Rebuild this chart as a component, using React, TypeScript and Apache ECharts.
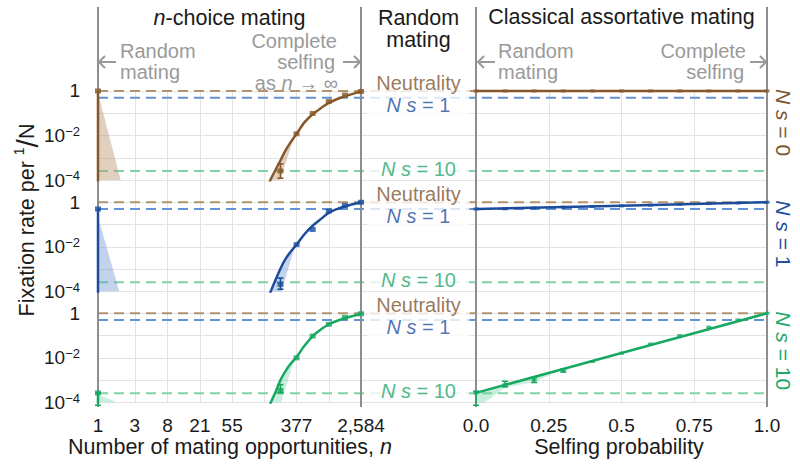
import React, { useEffect, useRef } from 'react';
import * as echarts from 'echarts';

const FONT = "'Liberation Sans', Arial, Helvetica, sans-serif";

// ---------- reference levels (fixation rate per 1/N)
const levelNeutral = 1;
const levelNs1 = 0.5;
const levelNs10 = 2.6e-4;

// ---------- left panel: n-choice mating
const nLabelTicks = [1, 3, 8, 21, 55, 377, 2584];
const nGridTicks = [1, 3, 8, 21, 55, 144, 377, 987, 2584];
const simN = [1, 233, 377, 610, 987, 1597, 2584];
const simNs0 = [1, 2.6e-4, 0.012, 0.098, 0.34, 0.66, 0.95];
const simNs1 = [0.5, 2.1e-4, 0.0126, 0.06, 0.4, 0.72, 1.0];
const simNs10 = [2.7e-4, 3.5e-4, 0.01, 0.095, 0.32, 0.66, 0.95];
const errLeftNs0 = [[233, 1.23e-4, 5.4e-4]];
const errLeftNs1 = [[233, 1.26e-4, 4.0e-4]];
const errLeftNs10 = [[1, 7.5e-5, 2.7e-4], [233, 2.7e-4, 6.3e-4]];
const theoryN = [160, 170, 200, 236, 270, 310, 377, 480, 620, 800, 1000, 1350, 1800, 2584];
const theoryNs0 = [3.2e-5, 8.9e-5, 2.8e-4, 8.5e-4, 2.1e-3, 4.6e-3, 0.012, 0.04, 0.095, 0.18, 0.3, 0.47, 0.66, 0.93];
const theoryNs1 = [3.2e-5, 7.9e-5, 3.2e-4, 1.17e-3, 2.8e-3, 5.6e-3, 0.0126, 0.038, 0.093, 0.19, 0.355, 0.54, 0.74, 1.0];
const theoryNs10 = [3.2e-5, 7.9e-5, 2.8e-4, 1.12e-3, 2.5e-3, 5.0e-3, 0.011, 0.0355, 0.1, 0.2, 0.33, 0.5, 0.68, 0.93];
const dropFloor = 1e-6;
const triNs0 = [[1, 0.8], [1.97, 1e-4]];
const triNs1 = [[1, 0.22], [1.89, 1e-4]];
const triNs10 = [[1, 2.2e-4], [1.8, 1e-4]];
const bandLeftNs0 = [[172, 1e-4], [236, 8.5e-4], [310, 4.6e-3], [357, 0.01], [229, 1e-4]];
const bandLeftNs1 = [[172, 1e-4], [236, 1.17e-3], [310, 5.6e-3], [360, 0.011], [240, 1e-4]];
const bandLeftNs10 = [[172, 1e-4], [236, 1.1e-3], [310, 5e-3], [360, 0.01], [236, 1e-4]];

// ---------- right panel: classical assortative mating
const selfP = [0, 0.1, 0.2, 0.3, 0.4, 0.5, 0.6, 0.7, 0.8, 0.9, 1.0];
const selfNs0 = [1, 1, 1, 1, 1, 1, 1, 1, 1, 1, 1];
const selfNs1 = [0.5, 0.51, 0.55, 0.6, 0.65, 0.69, 0.74, 0.81, 0.87, 0.93, 1.0];
const selfNs10 = [2.7e-4, 6.3e-4, 1.05e-3, 2.75e-3, 6.9e-3, 0.0162, 0.0417, 0.1, 0.237, 0.5, 1.0];
const selfTheoryP = [0, 0.5, 1];
const selfTheoryNs0 = [1, 1, 1];
const selfTheoryNs1 = [0.5, 0.7, 1.0];
const selfTheoryNs10 = [2.7e-4, 0.0165, 1.0];
const errRightNs10 = [[0, 7.5e-5, 3.2e-4], [0.1, 5e-4, 8.9e-4], [0.2, 7.9e-4, 1.35e-3], [0.3, 2.3e-3, 3.2e-3]];
const bandRightNs10 = [[0, 2.7e-4], [0.1, 6.5e-4], [0.2, 1.4e-3], [0.29, 2.8e-3], [0.2, 8.3e-4], [0.1, 4.7e-4], [0.03, 1e-4], [0, 1e-4]];

const selfTicks = [0, 0.25, 0.5, 0.75, 1];
const yLabelTicks = [1e-4, 1e-2, 1];
const yGridTicks = [1e-4, 1e-3, 1e-2, 1e-1, 1];

const C = {
  brown: '#87582a', blue: '#1c4c9c', green: '#17a862',
  brownDash: '#b3926f', blueDash: '#6293d3', greenDash: '#7fd4a6',
  brownText: '#7d5530', blueText: '#1f4fa0', greenText: '#22a86a',
  brownFill: 'rgba(185,150,115,0.45)', blueFill: 'rgba(105,145,205,0.4)', greenFill: 'rgba(100,210,155,0.35)',
  grid: '#e3e3e3', border: '#8e8e8e', note: '#9a9a9a', text: '#1a1a1a',
};

// ---------- layout
const LEFT_X = 98, LEFT_W = 263, RIGHT_X = 476, RIGHT_W = 291, END_X = 767;
const rowTops = [86.5, 197.8, 308.8];
const rowH = 93.7;
const Y_MIN = 1e-4, Y_MAX = Math.pow(10, 0.2);
const MID_X = 0.479;

const rows = [
  { color: C.brown, fill: C.brownFill, text: C.brownText, side: '0', sim: simNs0, theory: theoryNs0, tri: triNs0, band: bandLeftNs0, err: errLeftNs0, self: selfNs0, selfTheory: selfTheoryNs0, errR: [] as number[][], bandR: null as number[][] | null },
  { color: C.blue, fill: C.blueFill, text: C.blueText, side: '1', sim: simNs1, theory: theoryNs1, tri: triNs1, band: bandLeftNs1, err: errLeftNs1, self: selfNs1, selfTheory: selfTheoryNs1, errR: [] as number[][], bandR: null as number[][] | null },
  { color: C.green, fill: C.greenFill, text: C.greenText, side: '10', sim: simNs10, theory: theoryNs10, tri: triNs10, band: bandLeftNs10, err: errLeftNs10, self: selfNs10, selfTheory: selfTheoryNs10, errR: errRightNs10, bandR: bandRightNs10 },
];

const refLines = [
  { v: levelNeutral, dash: C.brownDash, text: C.brownText, label: 'Neutrality', dy: -8, pad: 9 },
  { v: levelNs1, dash: C.blueDash, text: C.blueText, label: '{i|N s}{n| = 1}', dy: 7, pad: 19 },
  { v: levelNs10, dash: C.greenDash, text: C.greenText, label: '{i|N s}{n| = 10}', dy: -2, pad: 13 },
];

function polygonSeries(ai: number, pts: number[][], fill: string, z: number) {
  return {
    type: 'custom', xAxisIndex: ai, yAxisIndex: ai, data: [pts[0]], silent: true, z,
    renderItem: (_p: any, api: any) => ({
      type: 'polygon',
      shape: { points: pts.map((p) => api.coord(p)) },
      style: { fill },
    }),
  };
}

function errorSeries(ai: number, data: number[][], color: string, z: number) {
  return {
    type: 'custom', xAxisIndex: ai, yAxisIndex: ai, data, silent: true, z, clip: false,
    encode: { x: 0, y: [1, 2] },
    renderItem: (_p: any, api: any) => {
      const x = api.value(0), lo = api.value(1), hi = api.value(2);
      const a = api.coord([x, lo]), b = api.coord([x, hi]);
      const st = { stroke: color, lineWidth: 1.6 };
      return {
        type: 'group',
        children: [
          { type: 'line', shape: { x1: a[0], y1: a[1], x2: b[0], y2: b[1] }, style: st },
          { type: 'line', shape: { x1: a[0] - 3, y1: a[1], x2: a[0] + 3, y2: a[1] }, style: st },
          { type: 'line', shape: { x1: b[0] - 3, y1: b[1], x2: b[0] + 3, y2: b[1] }, style: st },
        ],
      };
    },
  };
}

function txt(x: number, y: number, text: string, opts: any = {}) {
  const size = opts.size ?? 21.5;
  const fill = opts.fill ?? C.text;
  return {
    type: 'text', x, y, z: 20, rotation: opts.rotation ?? 0,
    style: {
      text, fill, fontSize: size, fontFamily: FONT,
      align: opts.align ?? 'center', verticalAlign: 'middle',
      textAlign: opts.align ?? 'center', textVerticalAlign: 'middle',
      rich: {
        i: { fontStyle: 'italic', fontSize: size, fontFamily: FONT, fill, color: fill },
        n: { fontSize: size, fontFamily: FONT, fill, color: fill },
        g: { fontSize: size, fontFamily: FONT, fill, color: fill },
        sup: { fontSize: size * 0.65, fontFamily: FONT, fill, color: fill, verticalAlign: 'top', lineHeight: 12 },
        sl: { fontSize: size * 1.4, fontFamily: FONT, fill, color: fill },
        ...(opts.rich || {}),
      },
    },
  };
}

function arrow(tipX: number, tailX: number, y: number) {
  const d = tipX < tailX ? 1 : -1;
  const st = { stroke: C.note, lineWidth: 2, fill: 'none' };
  return [
    { type: 'line', z: 20, shape: { x1: tipX, y1: y, x2: tailX, y2: y }, style: st },
    { type: 'polyline', z: 20, shape: { points: [[tipX + 6 * d, y - 6], [tipX, y], [tipX + 6 * d, y + 6]] }, style: st },
  ];
}

function buildOption() {
  const grid: any[] = [];
  const xAxis: any[] = [];
  const yAxis: any[] = [];
  const series: any[] = [];
  const hiddenLogY = { type: 'log', logBase: 10, min: Y_MIN, max: Y_MAX, show: false };

  rows.forEach((row, r) => {
    const top = rowTops[r];
    // background (horizontal grid lines, reference lines, middle labels)
    grid.push({ left: LEFT_X, top, width: END_X - LEFT_X, height: rowH });
    xAxis.push({ gridIndex: r * 3, type: 'value', min: 0, max: 1, show: false });
    yAxis.push({
      gridIndex: r * 3, type: 'log', logBase: 10, min: Y_MIN, max: Y_MAX,
      axisLine: { show: false },
      axisTick: { show: false, customValues: yGridTicks },
      splitLine: { show: true, lineStyle: { color: C.grid, width: 1 } },
      axisLabel: {
        customValues: yLabelTicks, margin: 18,
        formatter: (v: number) => {
          const e = Math.round(Math.log10(v));
          return e === 0 ? '{b|1}' : `{b|10}{s|\u2212${-e}}`;
        },
        rich: {
          b: { fontSize: 19, fontFamily: FONT, color: C.text, lineHeight: 22 },
          s: { fontSize: 13, fontFamily: FONT, color: C.text, lineHeight: 12, verticalAlign: 'top' },
        },
      },
    });
    // left data grid
    grid.push({ left: LEFT_X, top, width: LEFT_W, height: rowH });
    xAxis.push({ gridIndex: r * 3 + 1, type: 'log', logBase: 10, min: 1, max: 2584, show: false });
    yAxis.push({ gridIndex: r * 3 + 1, ...hiddenLogY });
    // right data grid
    grid.push({ left: RIGHT_X, top, width: RIGHT_W, height: rowH });
    xAxis.push({ gridIndex: r * 3 + 2, type: 'value', min: 0, max: 1, show: false });
    yAxis.push({ gridIndex: r * 3 + 2, ...hiddenLogY });

    const bg = r * 3, L = r * 3 + 1, R = r * 3 + 2;

    refLines.forEach((ref) => {
      series.push({
        type: 'line', xAxisIndex: bg, yAxisIndex: bg, silent: true, z: 1, symbol: 'none',
        data: [[0, ref.v], [1, ref.v]],
        lineStyle: { color: ref.dash, width: 2, type: [10, 6] },
      });
      series.push({
        type: 'scatter', xAxisIndex: bg, yAxisIndex: bg, silent: true, z: 6, symbolSize: 0,
        data: [[MID_X, ref.v]],
        label: {
          show: true, position: 'inside', offset: [0, ref.dy],
          formatter: ref.label, color: ref.text, fontSize: 20, fontFamily: FONT,
          backgroundColor: '#fff', padding: [0, ref.pad], lineHeight: 19, align: 'center', verticalAlign: 'middle',
          rich: {
            i: { fontStyle: 'italic', fontSize: 20, fontFamily: FONT, color: ref.text, lineHeight: 19 },
            n: { fontSize: 20, fontFamily: FONT, color: ref.text, lineHeight: 19 },
          },
        },
      });
    });

    // left panel
    series.push({
      type: 'line', xAxisIndex: L, yAxisIndex: L, silent: true, z: 2, symbol: 'none',
      data: row.tri, lineStyle: { width: 0 }, areaStyle: { color: row.fill, origin: 'start', opacity: 1 },
    });
    series.push(polygonSeries(L, row.band, row.fill, 2));
    series.push({
      type: 'line', xAxisIndex: L, yAxisIndex: L, silent: true, z: 3, symbol: 'none',
      data: [[simN[0], row.sim[0]], [simN[0], dropFloor]],
      lineStyle: { color: row.color, width: 2.5 },
    });
    series.push({
      type: 'line', xAxisIndex: L, yAxisIndex: L, silent: true, z: 3, symbol: 'none', smooth: 0.3,
      data: theoryN.map((n, i) => [n, row.theory[i]]),
      lineStyle: { color: row.color, width: 2.5 },
    });
    series.push(errorSeries(L, row.err, row.color, 4));
    series.push({
      type: 'scatter', xAxisIndex: L, yAxisIndex: L, silent: true, z: 4, symbol: 'rect', symbolSize: [6, 5],
      data: simN.map((n, i) => [n, row.sim[i]]), itemStyle: { color: row.color },
    });

    // right panel
    if (row.bandR) series.push(polygonSeries(R, row.bandR, row.fill, 2));
    series.push({
      type: 'line', xAxisIndex: R, yAxisIndex: R, silent: true, z: 3, symbol: 'none',
      data: selfTheoryP.map((p, i) => [p, row.selfTheory[i]]),
      lineStyle: { color: row.color, width: 2.5 },
    });
    if (row.errR.length) series.push(errorSeries(R, row.errR, row.color, 4));
    series.push({
      type: 'scatter', xAxisIndex: R, yAxisIndex: R, silent: true, z: 4, symbol: 'rect', symbolSize: [5, 3],
      data: selfP.map((p, i) => [p, row.self[i]]), itemStyle: { color: row.color },
    });
  });

  // vertical grid lines + bottom tick labels
  const gTop = rowTops[0] + 4.5;
  const gBottom = 467 - (rowTops[2] + rowH);
  grid.push({ left: LEFT_X, top: gTop, width: LEFT_W, bottom: gBottom });
  xAxis.push({
    gridIndex: 9, type: 'log', logBase: 10, min: 1, max: 2584,
    axisLine: { show: false },
    axisTick: { show: false, customValues: nGridTicks },
    splitLine: { show: true, lineStyle: { color: C.grid, width: 1 } },
    axisLabel: {
      customValues: nLabelTicks, margin: 13, color: C.text, fontSize: 19, fontFamily: FONT,
      formatter: (v: number) => Math.round(v).toLocaleString('en-US'),
    },
  });
  yAxis.push({ gridIndex: 9, type: 'value', min: 0, max: 1, show: false });
  grid.push({ left: RIGHT_X, top: gTop, width: RIGHT_W, bottom: gBottom });
  xAxis.push({
    gridIndex: 10, type: 'value', min: 0, max: 1, interval: 0.25,
    axisLine: { show: false },
    axisTick: { show: false, customValues: selfTicks },
    splitLine: { show: true, lineStyle: { color: C.grid, width: 1 } },
    axisLabel: {
      customValues: selfTicks, margin: 13, color: C.text, fontSize: 19, fontFamily: FONT,
      formatter: (v: number) => (v === 0 ? '0.0' : v === 1 ? '1.0' : String(v)),
    },
  });
  yAxis.push({ gridIndex: 10, type: 'value', min: 0, max: 1, show: false });

  const graphic: any[] = [];
  [LEFT_X, LEFT_X + LEFT_W, RIGHT_X, END_X].forEach((x) => {
    graphic.push({ type: 'line', z: 2, shape: { x1: x, y1: 7, x2: x, y2: 407 }, style: { stroke: C.border, lineWidth: 2 } });
  });
  // titles
  graphic.push(txt(229.5, 18, '{i|n}{n|-choice mating}'));
  graphic.push(txt(418.5, 17.5, 'Random'));
  graphic.push(txt(418.5, 39.5, 'mating'));
  graphic.push(txt(621.5, 17, 'Classical assortative mating'));
  // gray annotations
  const note = { fill: C.note, size: 20 };
  graphic.push(txt(120, 51, 'Random', { ...note, align: 'left' }));
  graphic.push(txt(120, 72, 'mating', { ...note, align: 'left' }));
  graphic.push(...arrow(99, 116, 62));
  graphic.push(txt(337, 41, 'Complete', { ...note, align: 'right' }));
  graphic.push(txt(335, 62, 'selfing', { ...note, align: 'right' }));
  graphic.push(txt(338, 83, '{g|as }{i|n}{g| \u2192 \u221e}', { ...note, align: 'right' }));
  graphic.push(...arrow(360, 343, 62));
  graphic.push(txt(498, 51, 'Random', { ...note, align: 'left' }));
  graphic.push(txt(498, 72, 'mating', { ...note, align: 'left' }));
  graphic.push(...arrow(478, 495, 62));
  graphic.push(txt(746, 51, 'Complete', { ...note, align: 'right' }));
  graphic.push(txt(744, 72, 'selfing', { ...note, align: 'right' }));
  graphic.push(...arrow(766, 750, 62));
  // right side row labels
  rows.forEach((row, r) => {
    graphic.push(txt(783, rowTops[r] + 2.5, `{i|N s}{n| = ${row.side}}`, { fill: row.text, align: 'left', rotation: -Math.PI / 2, size: 21 }));
  });
  // axis titles
  graphic.push(txt(27, 220, '{n|Fixation rate per }{sup|1}{sl|/}{n|N}', { rotation: Math.PI / 2 }));
  graphic.push(txt(230, 447, '{n|Number of mating opportunities, }{i|n}'));
  graphic.push(txt(619, 447, 'Selfing probability'));

  return { animation: false, backgroundColor: '#fff', grid, xAxis, yAxis, series, graphic };
}

export default function App() {
  const ref = useRef<HTMLDivElement>(null);
  useEffect(() => {
    const chart = echarts.init(ref.current!, null, { renderer: 'svg' });
    chart.setOption(buildOption() as any);
    return () => chart.dispose();
  }, []);
  return <div ref={ref} style={{ position: 'absolute', left: 0, top: 0, width: 800, height: 467, background: '#fff' }} />;
}
